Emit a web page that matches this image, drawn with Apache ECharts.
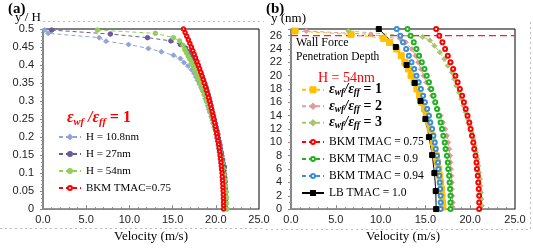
<!DOCTYPE html>
<html><head><meta charset="utf-8">
<script src="https://cdn.jsdelivr.net/npm/echarts@6/dist/echarts.min.js"></script>
<style>html,body{margin:0;padding:0;background:#fff}#c{width:533px;height:248px}</style>
</head><body><div id="c"></div>
<script>
// ---------- Panel (a): y/H vs velocity ----------
var xTicksA = [0, 25, 5];            // min, max, interval (Velocity m/s)
var yTicksA = [0, 0.5, 0.05];        // min, max, interval (y/H)
var namesA = ['H = 10.8nm', 'H = 27nm', 'H = 54nm', 'BKM TMAC=0.75'];

var yH_108 = [0.497,0.488,0.476,0.466,0.457,0.446,0.437,0.427,0.418,0.407,0.397,0.387,0.377,0.367,0.357,0.347,0.337,0.327,0.317,0.307,0.297,0.287,0.277,0.267,0.257,0.247,0.237,0.227,0.217,0.207,0.197,0.187,0.177,0.167,0.157,0.147,0.137,0.127,0.117,0.107,0.097,0.087,0.077,0.067,0.057,0.047,0.037,0.027,0.017,0.007];
var v_108  = [0.2,0.6,6.5,7.3,9.9,12.2,13.7,15.1,15.9,16.3,16.8,17.2,17.5,17.7,17.9,18.1,18.3,18.5,18.7,18.8,18.95,19.1,19.2,19.35,19.5,19.6,19.7,19.85,19.95,20.05,20.1,20.2,20.3,20.35,20.45,20.5,20.55,20.6,20.7,20.75,20.8,20.8,20.85,20.9,20.9,20.95,20.95,21.0,21.0,21.0];

var yH_27 = [0.497,0.486,0.476,0.467,0.457,0.447,0.437,0.427,0.417,0.407,0.397,0.387,0.377,0.367,0.357,0.347,0.337,0.327,0.317,0.307,0.297,0.287,0.277,0.267,0.257,0.247,0.237,0.227,0.217,0.207,0.197,0.187,0.177,0.167,0.157,0.147,0.137,0.127,0.117,0.107,0.097,0.087,0.077,0.067,0.057,0.047,0.037,0.027,0.017,0.007];
var v_27  = [1.0,7.8,12.1,14.8,15.9,16.5,16.9,17.2,17.5,17.7,17.9,18.1,18.3,18.45,18.6,18.75,18.9,19.0,19.15,19.25,19.35,19.45,19.55,19.65,19.75,19.85,19.95,20.05,20.15,20.25,20.3,20.4,20.5,20.55,20.65,20.7,20.8,20.85,21.0,20.95,21.0,21.05,21.1,21.05,21.1,21.15,21.1,21.15,21.15,21.1];

var yH_54 = [0.497,0.488,0.476,0.467,0.455,0.443,0.434,0.425,0.416,0.407,0.396,0.384,0.373,0.361,0.348,0.334,0.318,0.302,0.287,0.271,0.256,0.240,0.224,0.208,0.192,0.176,0.160,0.144,0.128,0.112,0.096,0.080,0.064,0.048,0.032,0.016,0.0];
var v_54  = [6.3,13.0,15.1,15.8,16.2,16.4,16.6,16.8,17.0,17.2,17.4,17.6,17.8,18.0,18.2,18.4,18.65,18.9,19.1,19.3,19.5,19.7,19.9,20.05,20.2,20.35,20.5,20.6,20.75,20.85,20.95,21.05,21.1,21.2,21.25,21.25,21.3];

var yH_bkm = [0,0.01,0.02,0.03,0.04,0.05,0.06,0.07,0.08,0.09,0.10,0.11,0.12,0.13,0.14,0.15,0.16,0.17,0.18,0.19,0.20,0.21,0.22,0.23,0.24,0.25,0.26,0.27,0.28,0.29,0.30,0.31,0.32,0.33,0.34,0.35,0.36,0.37,0.38,0.39,0.40,0.41,0.42,0.43,0.44,0.45,0.46,0.47,0.48,0.49,0.50];
var v_bkm  = [20.9,20.9,20.89,20.88,20.87,20.85,20.83,20.81,20.78,20.75,20.72,20.68,20.64,20.6,20.55,20.5,20.44,20.38,20.32,20.25,20.18,20.1,20.02,19.94,19.86,19.77,19.68,19.58,19.48,19.38,19.27,19.16,19.04,18.92,18.8,18.67,18.54,18.4,18.26,18.12,17.97,17.82,17.66,17.5,17.34,17.17,17.0,16.82,16.64,16.45,16.26];

// ---------- Panel (b): y (nm) vs velocity ----------
var xTicksB = [0, 25, 5];
var yTicksB = [0, 27, 2];
var penetrationDepth = 26;
var namesB = ['eps1', 'eps2', 'eps3', 'BKM TMAC = 0.75', 'BKM TMAC = 0.9', 'BKM TMAC = 0.94', 'LB TMAC = 1.0'];

var yN_e1 = [26.7,26.2,25.6,25.0,24.0,23.0,22.0,21.0,20.0,19.0,18.0,17.0,16.0,15.0,14.0,13.0,12.0,11.0,10.0,9.0,8.0,7.0,6.0,5.0,4.0,3.0,2.0,1.0,0.3];
var v_e1  = [0.45,6.7,10.3,11.0,11.8,12.3,12.7,13.1,13.4,13.75,14.05,14.35,14.6,14.9,15.1,15.35,15.55,15.75,15.9,16.05,16.2,16.35,16.5,16.6,16.7,16.8,16.85,16.9,16.95];

var yN_e2 = [26.7,26.2,25.5,25.0,24.0,23.0,22.0,21.0,20.0,19.0,18.0,17.0,16.0,15.0,14.0,13.0,12.0,11.0,10.0,9.0,8.0,7.0,6.0,5.0,4.0,3.0,2.0,1.0,0.3];
var v_e2  = [1.7,8.9,12.2,12.8,13.5,13.9,14.2,14.5,14.8,15.1,15.45,15.75,16.1,16.4,16.7,16.95,17.2,17.4,17.55,17.65,17.75,17.8,17.85,17.9,17.95,17.95,18.0,18.05,18.05];

var yN_e3 = [26.7,25.8,25.3,24.5,23.5,22.5,21.5,20.5,19.5,18.5,17.5,16.5,15.5,14.5,13.5,12.5,11.5,10.5,9.5,8.5,7.5,6.5,5.5,4.5,3.5,2.5,1.5,0.5];
var v_e3  = [6.4,14.7,15.5,16.0,16.6,17.1,17.5,17.95,18.2,18.45,18.75,19.0,19.25,19.5,19.75,19.95,20.15,20.35,20.5,20.65,20.8,20.9,21.0,21.1,21.15,21.2,21.25,21.3];

var yN_bkm = [27,26,25,24,23,22,21,20,19,18,17,16,15,14,13,12,11,10,9,8,7,6,5,4,3,2,1,0];
var v_bkm075 = [16.2,16.55,16.9,17.2,17.5,17.8,18.1,18.35,18.6,18.85,19.1,19.3,19.5,19.7,19.9,20.05,20.2,20.35,20.45,20.6,20.7,20.75,20.85,20.9,20.95,21.0,21.0,21.0];
var v_bkm090 = [13.0,13.35,13.7,14.0,14.3,14.6,14.9,15.15,15.4,15.65,15.9,16.1,16.3,16.5,16.7,16.85,17.0,17.15,17.25,17.4,17.5,17.55,17.65,17.7,17.75,17.8,17.8,17.8];
var v_bkm094 = [11.8,12.2,12.5,12.85,13.15,13.45,13.75,14.0,14.25,14.5,14.75,14.95,15.2,15.4,15.55,15.75,15.9,16.05,16.15,16.3,16.4,16.45,16.55,16.6,16.65,16.7,16.7,16.7];

var yN_lb = [27,24.3,21.6,18.9,16.2,13.5,10.8,8.1,5.4,2.7,0];
var v_lb  = [9.8,11.7,12.9,13.8,14.45,15.0,15.4,15.75,16.0,16.15,16.2];

function pairs(v, y) { return v.map(function (x, i) { return [x, y[i]]; }); }

var serif = 'Liberation Serif';
var sans = 'Liberation Sans';

function xAxisCfg(grid, t, gap) {
  return {
    gridIndex: grid, type: 'value', min: t[0], max: t[1], interval: t[2],
    name: 'Velocity (m/s)', nameLocation: 'middle', nameGap: gap,
    nameTextStyle: { fontFamily: serif, fontSize: 13, color: '#000', fontWeight: 'normal' },
    axisLine: { lineStyle: { color: '#888', width: 1 } },
    axisTick: { inside: true, length: 4, lineStyle: { color: '#888' } },
    minorTick: { show: true, splitNumber: 5, length: 2, lineStyle: { color: '#888' } },
    axisLabel: { margin: 5, fontFamily: sans, fontSize: 11, color: '#222',
      formatter: function (v) { return v.toFixed(1); } },
    splitLine: { show: false }
  };
}
function yAxisCfg(grid, t, minor, showMax) {
  return {
    gridIndex: grid, type: 'value', min: t[0], max: t[1], interval: t[2],
    axisLine: { lineStyle: { color: '#888', width: 1.5 } },
    axisTick: { length: 3, lineStyle: { color: '#888' } },
    minorTick: { show: true, splitNumber: minor, length: 2, lineStyle: { color: '#999' } },
    axisLabel: { margin: 9, fontFamily: sans, fontSize: 11, color: '#222', showMaxLabel: showMax },
    splitLine: { show: false }
  };
}

function ser(name, xi, yi, data, color, symbol, size, dash, extra) {
  var s = {
    name: name, type: 'line', xAxisIndex: xi, yAxisIndex: yi, data: data, color: color,
    symbol: symbol, symbolSize: size, showSymbol: true,
    itemStyle: { color: color, borderColor: color, borderWidth: 1 },
    lineStyle: { color: color, width: 1, type: dash ? [4, 3] : 'solid' },
    emphasis: { disabled: true }, animation: false, z: 2
  };
  if (extra) for (var k in extra) s[k] = extra[k];
  return s;
}

var epsRich = {
  e: { fontFamily: serif, fontStyle: 'italic', fontWeight: 'bold', fontSize: 14, lineHeight: 16.5, color: '#000' },
  s: { fontFamily: serif, fontStyle: 'italic', fontWeight: 'bold', fontSize: 9.5, lineHeight: 8, verticalAlign: 'bottom', color: '#000' },
  b: { fontFamily: serif, fontWeight: 'bold', fontSize: 14, lineHeight: 16.5, color: '#000' }
};
var titleRich = {
  e: { fontFamily: serif, fontStyle: 'italic', fontWeight: 'bold', fontSize: 16, lineHeight: 20, fill: '#ff0000' },
  s: { fontFamily: serif, fontStyle: 'italic', fontWeight: 'bold', fontSize: 10.5, lineHeight: 9, verticalAlign: 'bottom', fill: '#ff0000' },
  b: { fontFamily: serif, fontWeight: 'bold', fontSize: 16, lineHeight: 20, fill: '#ff0000' }
};

var option = {
  animation: false,
  backgroundColor: '#fff',
  textStyle: { fontFamily: serif },
  grid: [
    { left: 43, top: 29, width: 216, height: 184, show: true, borderColor: '#000', borderWidth: 1, backgroundColor: 'transparent' },
    { left: 291, top: 29, width: 224, height: 185, show: true, borderColor: '#000', borderWidth: 1, backgroundColor: 'transparent' }
  ],
  xAxis: [xAxisCfg(0, xTicksA, 9), xAxisCfg(1, xTicksB, 14)],
  yAxis: [yAxisCfg(0, yTicksA, 5, true), yAxisCfg(1, yTicksB, 2, false)],
  legend: [
    { data: namesA, orient: 'vertical', left: 58, top: 128.5, padding: 0, itemGap: 0,
      itemWidth: 22, itemHeight: 5, selectedMode: false,
      textStyle: { fontFamily: serif, fontSize: 11, color: '#000', lineHeight: 17 } },
    { data: namesB.slice(0, 3), orient: 'vertical', left: 301, top: 81.5, padding: 0, itemGap: 0,
      itemWidth: 22, itemHeight: 6, selectedMode: false,
      formatter: function (n) { return '{e|ε}{s|wf}{e|/ε}{s|ff}{b| = ' + n.slice(3) + '}'; },
      textStyle: { fontFamily: serif, fontSize: 14, color: '#000', lineHeight: 16.5, rich: epsRich } },
    { data: namesB.slice(3), orient: 'vertical', left: 301, top: 133.5, padding: 0, itemGap: 0,
      itemWidth: 22, itemHeight: 5, selectedMode: false,
      textStyle: { fontFamily: serif, fontSize: 11.5, color: '#000', lineHeight: 17 } }
  ],
  series: [
    ser(namesA[0], 0, 0, pairs(v_108, yH_108), '#8fa4d9', 'diamond', 5, true),
    ser(namesA[1], 0, 0, pairs(v_27, yH_27), '#6a5a9c', 'circle', 4.5, true),
    ser(namesA[2], 0, 0, pairs(v_54, yH_54), '#92cf57', 'circle', 4.5, true),
    ser(namesA[3], 0, 0, pairs(v_bkm, yH_bkm), '#ff0000', 'emptyCircle', 3.5, true),

    ser('Wall Force Penetration Depth', 1, 1, [[xTicksB[0], penetrationDepth], [xTicksB[1], penetrationDepth]],
        '#ff2020', 'none', 0, false, { lineStyle: { color: '#ff2020', width: 1.2, type: [7, 4], opacity: 1 }, z: 1 }),
    ser(namesB[0], 1, 1, pairs(v_e1, yN_e1), '#ffc000', 'rect', 6, true),
    ser(namesB[1], 1, 1, pairs(v_e2, yN_e2), '#e39a9a', 'diamond', 5, true),
    ser(namesB[2], 1, 1, pairs(v_e3, yN_e3), '#a6c86a', 'diamond', 5, true),
    ser(namesB[3], 1, 1, pairs(v_bkm075, yN_bkm), '#ff0000', 'emptyCircle', 4, true),
    ser(namesB[4], 1, 1, pairs(v_bkm090, yN_bkm), '#1fb31f', 'emptyCircle', 4, true),
    ser(namesB[5], 1, 1, pairs(v_bkm094, yN_bkm), '#3a8fd6', 'emptyCircle', 4, true),
    ser(namesB[6], 1, 1, pairs(v_lb, yN_lb), '#000000', 'rect', 5, false, { smooth: 0.3 })
  ],
  graphic: [
    { type: 'line', shape: { x1: 43, y1: 21.5, x2: 264, y2: 21.5 }, style: { stroke: '#bbb', lineDash: [2, 3] }, silent: true },
    { type: 'line', shape: { x1: 0, y1: 228.5, x2: 264, y2: 228.5 }, style: { stroke: '#bbb', lineDash: [2, 3] }, silent: true },
    { type: 'line', shape: { x1: 266, y1: 229.5, x2: 530, y2: 229.5 }, style: { stroke: '#bbb', lineDash: [2, 3] }, silent: true },
    { type: 'line', shape: { x1: 530.5, y1: 22, x2: 530.5, y2: 229 }, style: { stroke: '#bbb', lineDash: [2, 3] }, silent: true },
    { type: 'text', left: 8, top: 2, style: { text: '(a)', font: 'bold 15px Liberation Serif', fill: '#000' } },
    { type: 'text', left: 266, top: 2, style: { text: '(b)', font: 'bold 15px Liberation Serif', fill: '#000' } },
    { type: 'text', left: 15, top: 11, style: { text: 'y / H', font: '13px Liberation Serif', fill: '#000' } },
    { type: 'text', left: 271, top: 12, style: { text: 'y (nm)', font: '13px Liberation Serif', fill: '#000' } },
    { type: 'text', left: 67, top: 110, style: { text: '{e|ε}{s|wf}{e| /ε}{s|ff}{b| = 1}', rich: titleRich } },
    { type: 'text', left: 296, top: 37, style: { text: 'Wall Force', font: '12px Liberation Serif', fill: '#000' } },
    { type: 'text', left: 296, top: 51, style: { text: 'Penetration Depth', font: '11.5px Liberation Serif', fill: '#000' } },
    { type: 'text', left: 318, top: 71, style: { text: 'H = 54nm', font: '14px Liberation Serif', fill: '#ff0000' } }
  ]
};
var chart = echarts.init(document.getElementById('c'), null, { renderer: 'canvas' });
chart.setOption(option);
</script></body></html>
